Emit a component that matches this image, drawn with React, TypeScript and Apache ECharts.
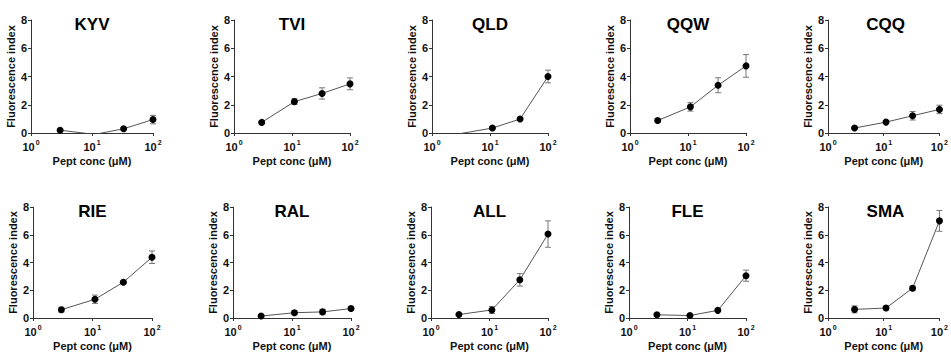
import { useEffect, useRef } from 'react';
import * as echarts from 'echarts';

const CONC = [3, 11, 33, 100];
const NAMES = ['KYV', 'TVI', 'QLD', 'QQW', 'CQQ', 'RIE', 'RAL', 'ALL', 'FLE', 'SMA'];

const KYV = [0.2, -0.1, 0.3, 0.95];
const KYV_ERR = [0.05, 0, 0.08, 0.3];
const TVI = [0.75, 2.22, 2.8, 3.48];
const TVI_ERR = [0.08, 0.2, 0.4, 0.42];
const QLD = [-0.05, 0.35, 0.99, 4.0];
const QLD_ERR = [0, 0.08, 0.08, 0.45];
const QQW = [0.88, 1.85, 3.38, 4.75];
const QQW_ERR = [0.15, 0.3, 0.53, 0.8];
const CQQ = [0.35, 0.77, 1.22, 1.67];
const CQQ_ERR = [0.06, 0.1, 0.3, 0.3];
const RIE = [0.6, 1.35, 2.58, 4.38];
const RIE_ERR = [0.18, 0.3, 0.1, 0.45];
const RAL = [0.14, 0.38, 0.44, 0.68];
const RAL_ERR = [0.05, 0.15, 0.18, 0.15];
const ALL = [0.25, 0.58, 2.75, 6.05];
const ALL_ERR = [0.08, 0.25, 0.45, 0.95];
const FLE = [0.23, 0.18, 0.55, 3.05];
const FLE_ERR = [0.1, 0.06, 0.06, 0.4];
const SMA = [0.62, 0.72, 2.15, 7.0];
const SMA_ERR = [0.25, 0.15, 0.15, 0.75];

const MEANS = [KYV, TVI, QLD, QQW, CQQ, RIE, RAL, ALL, FLE, SMA];
const ERRS = [KYV_ERR, TVI_ERR, QLD_ERR, QQW_ERR, CQQ_ERR, RIE_ERR, RAL_ERR, ALL_ERR, FLE_ERR, SMA_ERR];

const Y_MIN = 0;
const Y_MAX = 8;
const Y_STEP = 2;
const X_MIN = 1;
const X_MAX = 100;
const X_EXP: Record<string, string> = { '1': '0', '10': '1', '100': '2' };
const Y_NAME = 'Fluorescence index';
const X_NAME = 'Pept conc (μM)';

const FONT = "'Liberation Sans', Arial, sans-serif";

export default function App() {
  const ref = useRef<HTMLDivElement>(null);
  useEffect(() => {
    if (!ref.current) return;
    const chart = echarts.init(ref.current, undefined, { renderer: 'svg' });
    const lefts = [[31, 234, 432, 630, 828], [33, 233, 431, 629, 828]];
    const rights = [[153, 350, 548, 746, 943], [152, 351, 548, 746, 943]];
    const tops = [20, 207];
    const heights = [113, 114];
    const grids: any[] = [];
    const xAxes: any[] = [];
    const yAxes: any[] = [];
    const series: any[] = [];
    const graphics: any[] = [];
    const axisColor = '#333';
    NAMES.forEach((name, i) => {
      const r = Math.floor(i / 5);
      const c = i % 5;
      const left = lefts[r][c];
      const width = rights[r][c] - left;
      grids.push({ left, top: tops[r], width, height: heights[r], containLabel: false });
      xAxes.push({
        type: 'log', logBase: 10, gridIndex: i, min: X_MIN, max: X_MAX,
        name: X_NAME, nameLocation: 'middle', nameGap: 22,
        nameTextStyle: { fontFamily: FONT, fontWeight: 'bold', fontSize: 11, color: '#111' },
        axisLine: { show: true, lineStyle: { color: axisColor, width: 1 } },
        axisTick: { show: true, length: 3, lineStyle: { color: axisColor } },
        splitLine: { show: false },
        axisLabel: {
          margin: 6,
          formatter: (v: number) => `{b|10}{s|${X_EXP[String(Math.round(v))] ?? ''}}`,
          rich: {
            b: { fontFamily: FONT, fontWeight: 'bold', fontSize: 11, color: '#111', lineHeight: 13, verticalAlign: 'bottom' },
            s: { fontFamily: FONT, fontWeight: 'bold', fontSize: 7, color: '#111', lineHeight: 8, verticalAlign: 'top', padding: [0, 0, 0, 1] },
          },
        },
      });
      yAxes.push({
        type: 'value', gridIndex: i, min: Y_MIN, max: Y_MAX, interval: Y_STEP,
        name: Y_NAME, nameLocation: 'middle', nameGap: 10, nameRotate: 90,
        nameTextStyle: { fontFamily: FONT, fontWeight: 'bold', fontSize: 11, color: '#111' },
        axisLine: { show: true, lineStyle: { color: axisColor, width: 1 } },
        axisTick: { show: true, length: 3, lineStyle: { color: axisColor } },
        splitLine: { show: false },
        axisLabel: { margin: 4, fontFamily: FONT, fontWeight: 'bold', fontSize: 11, color: '#111' },
      });
      const errData = CONC.map((x, k) => [x, MEANS[i][k] - ERRS[i][k], MEANS[i][k] + ERRS[i][k], ERRS[i][k]]);
      series.push({
        type: 'custom', xAxisIndex: i, yAxisIndex: i, z: 2, silent: true,
        encode: { x: 0, y: [1, 2] },
        data: errData,
        renderItem: (_p: any, api: any) => {
          const e = api.value(3);
          if (!e) return null;
          const x = api.value(0);
          const lo = api.coord([x, api.value(1)]);
          const hi = api.coord([x, api.value(2)]);
          const cw = 3;
          const st = { stroke: '#777', lineWidth: 1 };
          return {
            type: 'group',
            children: [
              { type: 'line', shape: { x1: hi[0], y1: hi[1], x2: lo[0], y2: lo[1] }, style: st },
              { type: 'line', shape: { x1: hi[0] - cw, y1: hi[1], x2: hi[0] + cw, y2: hi[1] }, style: st },
              { type: 'line', shape: { x1: lo[0] - cw, y1: lo[1], x2: lo[0] + cw, y2: lo[1] }, style: st },
            ],
          };
        },
      });
      series.push({
        type: 'line', name, xAxisIndex: i, yAxisIndex: i, z: 3,
        data: CONC.map((x, k) => [x, MEANS[i][k]]),
        symbol: 'circle', symbolSize: 7, showSymbol: true, clip: true,
        itemStyle: { color: '#000' },
        lineStyle: { color: '#555', width: 1 },
      });
      graphics.push({
        type: 'text', x: (left + rights[r][c]) / 2, y: tops[r] - 4,
        style: { text: name, fontFamily: FONT, fontWeight: 'bold', fontSize: 17, fill: '#000', align: 'center', verticalAlign: 'top' },
      });
    });
    chart.setOption({
      animation: false,
      backgroundColor: '#fff',
      grid: grids,
      xAxis: xAxes,
      yAxis: yAxes,
      series,
      graphic: graphics,
    });
    return () => chart.dispose();
  }, []);
  return <div ref={ref} style={{ position: 'fixed', left: 0, top: 0, width: 951, height: 352 }} />;
}
